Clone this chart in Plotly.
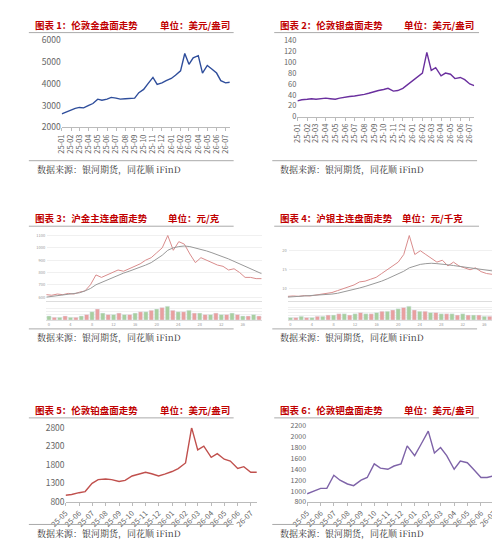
import plotly.graph_objects as go
import pandas as pd

# semimonthly points
dates_a = pd.date_range("2025-01-01", periods=38, freq="SMS")
gold = [2620, 2700, 2780, 2880, 2920, 2900, 3020, 3100, 3300, 3250, 3300, 3380, 3350,
        3300, 3320, 3330, 3350, 3600, 3750, 4000, 4300, 3980, 4050, 4150, 4250, 4400,
        4600, 5400, 4900, 5200, 5300, 4500, 4850, 4700, 4500, 4150, 4050, 4080]
silver = [29, 31, 32, 33, 32, 33, 34, 33, 32, 34, 36, 37, 38, 39, 41, 43, 45, 48, 50,
          52, 47, 48, 52, 58, 65, 72, 80, 118, 85, 90, 75, 80, 78, 70, 72, 68, 60, 57]

dates_b = pd.date_range("2025-05-01", periods=30, freq="SMS")
platinum = [980, 1000, 1050, 1080, 1300, 1400, 1420, 1400, 1350, 1380, 1500, 1550, 1600,
            1560, 1500, 1550, 1620, 1700, 1850, 2800, 2200, 2300, 2000, 2100, 1950, 1900,
            1700, 1750, 1600, 1600]
palladium = [950, 1000, 1050, 1050, 1290, 1200, 1130, 1100, 1200, 1250, 1500, 1420, 1400,
             1460, 1500, 1830, 1650, 1850, 2100, 1700, 1800, 1650, 1400, 1550, 1520, 1400,
             1250, 1250, 1280, 1270]

sh_idx = list(range(40))
sh_gold = [620, 615, 625, 620, 630, 625, 640, 650, 700, 780, 760, 780, 800, 820, 810, 830,
           850, 870, 900, 920, 960, 1000, 1100, 980, 1050, 1030, 950, 880, 920, 900, 880,
           860, 850, 820, 830, 800, 760, 760, 750, 750]
sh_gold_ma = [600, 605, 610, 615, 620, 625, 635, 650, 670, 700, 720, 740, 760, 780, 795, 810,
              825, 840, 860, 880, 910, 940, 980, 1000, 1010, 1015, 1010, 1000, 990, 975, 960,
              945, 930, 910, 890, 870, 850, 830, 810, 790]
sh_silver = [8, 8.1, 8.0, 8.2, 8.1, 8.3, 8.5, 8.8, 9.0, 9.5, 10, 10.5, 11, 11.8, 12, 12.5, 13,
             14, 15, 16, 17, 19, 24, 19, 20, 19, 18, 17, 17.5, 16, 17, 16, 15.5, 15, 15.5, 14.5,
             14, 13.8, 13.5, 13.4]
sh_silver_ma = [7.8, 7.9, 8.0, 8.05, 8.1, 8.2, 8.3, 8.4, 8.6, 8.8, 9.1, 9.4, 9.8, 10.2, 10.6,
                11.0, 11.5, 12, 12.6, 13.2, 13.9, 14.6, 15.5, 16.0, 16.4, 16.6, 16.7, 16.6, 16.5,
                16.3, 16.1, 15.9, 15.7, 15.5, 15.3, 15.1, 14.9, 14.7, 14.5, 14.3]
vol_gold = [3, 2, 2, 3, 2, 2, 3, 4, 6, 8, 5, 4, 4, 5, 4, 4, 5, 6, 6, 7, 8, 9, 10, 7, 6, 6, 7,
            5, 5, 4, 4, 5, 4, 4, 5, 4, 3, 3, 4, 3]
vol_silver = [2, 2, 3, 2, 2, 3, 3, 4, 4, 5, 5, 4, 5, 6, 5, 5, 6, 7, 7, 8, 9, 10, 11, 8, 7, 7,
              6, 6, 5, 5, 5, 4, 5, 4, 4, 4, 3, 3, 3, 3]

RED = "#c00000"
FONT = "Noto Sans CJK SC"
fig = go.Figure()

def px_y(p):
    return 1 - p / 542

def px_x(p):
    return p / 500

panels = [
    # axis id, x, y, color, x px, y px, range, dtick, tickangle, y font
    ("", dates_a, gold, "#2e4d9b", (38, 212), (26, 115), [2000, 6000], 1000, -90, 8.5),
    ("2", dates_a, silver, "#6a2f9e", (282, 465), (26, 104), [0, 140], 20, -90, 7.5),
    ("5", dates_b, platinum, "#c0504d", (42, 240), (422, 498), [800, 2800], 500, -45, 8.5),
    ("6", dates_b, palladium, "#7e63a8", (292, 492), (420, 498), [800, 2200], 200, -45, 7),
]
for ax, xs, ys, col, xp, yp, yr, dt, ang, yf in panels:
    fig.add_trace(go.Scatter(x=xs, y=ys, mode="lines", line=dict(color=col, width=1.4),
                             xaxis="x" + ax, yaxis="y" + ax, showlegend=False))
    fig.layout["xaxis" + ax] = dict(domain=[px_x(xp[0]), px_x(xp[1])], anchor="y" + ax,
                                     tickformat="%y-%m", dtick="M1", tickangle=ang,
                                     ticks="outside", ticklen=3, tickcolor="#bbb",
                                     showline=True, linecolor="#bbb", showgrid=False,
                                     tickfont=dict(size=7.5, color="#666"))
    fig.layout["yaxis" + ax] = dict(domain=[px_y(yp[1]), px_y(yp[0])], anchor="x" + ax,
                                     range=yr, dtick=dt, tick0=yr[0], showgrid=False,
                                     tickfont=dict(size=yf, color="#666"))

# Shanghai panels
sh = [("3", sh_gold, sh_gold_ma, vol_gold, (22, 245)), ("4", sh_silver, sh_silver_ma, vol_silver, (272, 495))]
n = 7
for ax, main, ma, vol, xp in sh:
    a1, a2 = str(n), str(n + 1)
    fig.add_trace(go.Scatter(x=sh_idx, y=main, mode="lines", line=dict(color="#d98c8c", width=1),
                             xaxis="x" + a1, yaxis="y" + a1, showlegend=False))
    fig.add_trace(go.Scatter(x=sh_idx, y=ma, mode="lines", line=dict(color="#999", width=1),
                             xaxis="x" + a1, yaxis="y" + a1, showlegend=False))
    fig.add_trace(go.Bar(x=sh_idx, y=vol, marker_color=["#e8a0a0" if i % 2 else "#a8cfa0" for i in sh_idx],
                         xaxis="x" + a2, yaxis="y" + a2, showlegend=False))
    for a, yp in ((a1, (222, 292)), (a2, (297, 312))):
        fig.layout["xaxis" + a] = dict(domain=[px_x(xp[0]), px_x(xp[1])], anchor="y" + a,
                                        showticklabels=(a == a2), tickfont=dict(size=4, color="#999"),
                                        showgrid=False, showline=True, linecolor="#ddd", dtick=4)
        fig.layout["yaxis" + a] = dict(domain=[px_y(yp[1]), px_y(yp[0])], anchor="x" + a,
                                        showticklabels=(a == a1),
                                        tickfont=dict(size=4, color="#999"), showgrid=True,
                                        gridcolor="#f0f0f0", nticks=6)
    n += 2

titles = [
    (8, 10, "图表 1：伦敦金盘面走势", 138, "单位：美元/盎司"),
    (262, 10, "图表 2：伦敦银盘面走势", 390, "单位：美元/盎司"),
    (8, 208, "图表 3：沪金主连盘面走势", 146, "单位：元/克"),
    (262, 208, "图表 4：沪银主连盘面走势", 388, "单位：元/千克"),
    (8, 404, "图表 5：伦敦铂盘面走势", 138, "单位：美元/盎司"),
    (262, 404, "图表 6：伦敦钯盘面走势", 390, "单位：美元/盎司"),
]
for x1, y1, t1, x2, t2 in titles:
    for xx, tt in ((x1, t1), (x2, t2)):
        fig.add_annotation(x=px_x(xx), y=px_y(y1), xref="paper", yref="paper", text="<b>" + tt + "</b>",
                           showarrow=False, xanchor="left", yanchor="middle",
                           font=dict(family=FONT, size=9.5, color=RED))
    fig.add_shape(type="line", xref="paper", yref="paper", x0=px_x(x1 - 4), x1=px_x(x1 + 208),
                  y0=px_y(y1 + 8), y1=px_y(y1 + 8), line=dict(color="#aaa", width=1))

for xx, yy in ((10, 158), (262, 158), (10, 330), (262, 330), (10, 530), (262, 530)):
    fig.add_annotation(x=px_x(xx), y=px_y(yy), xref="paper", yref="paper", text="数据来源：银河期货，同花顺 iFinD",
                       showarrow=False, xanchor="left", yanchor="middle",
                       font=dict(family="Noto Serif CJK SC, " + FONT, size=9, color="#333"))
    fig.add_shape(type="line", xref="paper", yref="paper", x0=px_x(xx - 6), x1=px_x(xx + 206),
                  y0=px_y(yy - 9), y1=px_y(yy - 9), line=dict(color="#aaa", width=1))

fig.update_layout(width=500, height=542, margin=dict(l=0, r=0, t=0, b=0),
                  paper_bgcolor="white", plot_bgcolor="white", bargap=0.2,
                  font=dict(family=FONT))
fig.write_html("out.html")
